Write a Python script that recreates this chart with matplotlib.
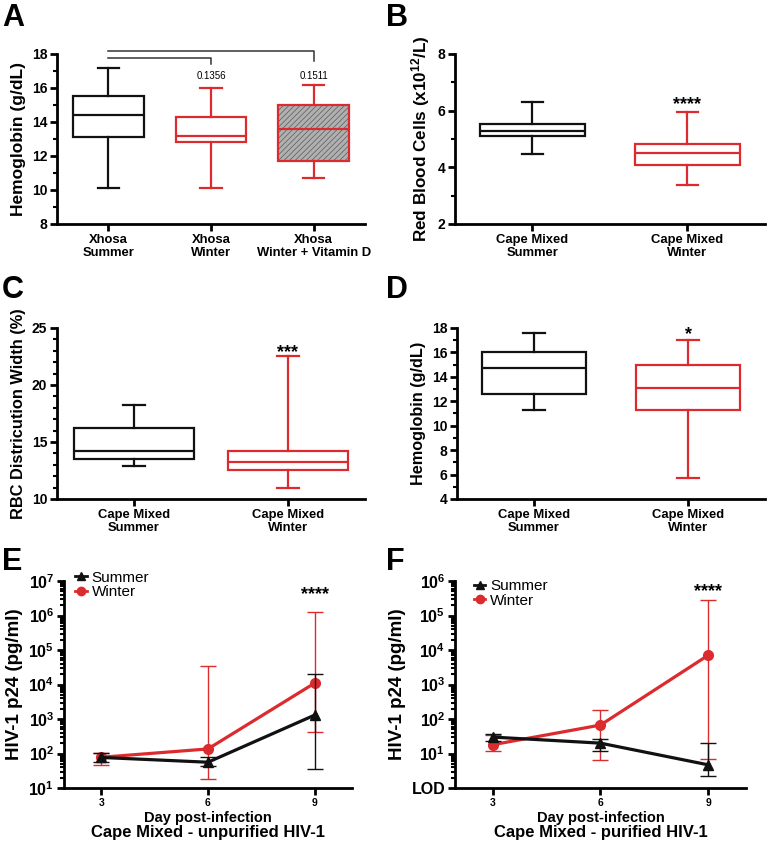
import matplotlib
matplotlib.use("Agg")
import matplotlib.pyplot as plt
from matplotlib.lines import Line2D
from matplotlib.ticker import MultipleLocator, LogLocator, NullFormatter, FixedLocator

plt.rcParams['font.family'] = ['Liberation Sans', 'DejaVu Sans']
plt.rcParams['font.weight'] = 'bold'
plt.rcParams['mathtext.fontset'] = 'custom'
plt.rcParams['mathtext.rm'] = 'Liberation Sans:bold'
plt.rcParams['mathtext.it'] = 'Liberation Sans:bold'
plt.rcParams['mathtext.bf'] = 'Liberation Sans:bold'
plt.rcParams['hatch.linewidth'] = 0.5

BLACK = '#111111'
RED = '#dc2b2e'

# ---- panel A: Xhosa hemoglobin
a_labels = ['Xhosa\nSummer', 'Xhosa\nWinter', 'Xhosa\nWinter + Vitamin D']
a_whislo = [10.1, 10.1, 10.7]
a_q1 = [13.1, 12.8, 11.7]
a_med = [14.4, 13.2, 13.6]
a_q3 = [15.5, 14.3, 15.0]
a_whishi = [17.2, 16.0, 16.2]
a_pvals = ['0.1356', '0.1511']

# ---- panel B: red blood cells
b_labels = ['Cape Mixed\nSummer', 'Cape Mixed\nWinter']
b_whislo = [4.47, 3.37]
b_q1 = [5.11, 4.08]
b_med = [5.29, 4.52]
b_q3 = [5.53, 4.82]
b_whishi = [6.3, 5.96]

# ---- panel C: RBC distribution width
c_labels = ['Cape Mixed\nSummer', 'Cape Mixed\nWinter']
c_whislo = [12.9, 10.95]
c_q1 = [13.5, 12.5]
c_med = [14.2, 13.2]
c_q3 = [16.2, 14.2]
c_whishi = [18.2, 22.5]

# ---- panel D: Cape Mixed hemoglobin
d_labels = ['Cape Mixed\nSummer', 'Cape Mixed\nWinter']
d_whislo = [11.3, 5.7]
d_q1 = [12.6, 11.3]
d_med = [14.7, 13.05]
d_q3 = [16.0, 15.0]
d_whishi = [17.6, 17.0]

# ---- panels E/F: HIV-1 p24 over time
days = [3, 6, 9]
e_summer = [77, 56, 1300]
e_summer_lo = [57, 44, 35]
e_summer_hi = [102, 82, 19700]
e_winter = [78, 136, 11000]
e_winter_lo = [45, 18, 430]
e_winter_hi = [102, 33500, 1.3e6]

f_summer = [30, 20, 4.7]
f_summer_lo = [23, 12, 2.2]
f_summer_hi = [36, 27, 19.6]
f_winter = [18, 67, 7100]
f_winter_lo = [11.5, 6.4, 7]
f_winter_hi = [35, 182, 2.8e5]


def style_axes(ax):
    for s in ['top', 'right']:
        ax.spines[s].set_visible(False)
    for s in ['left', 'bottom']:
        ax.spines[s].set_linewidth(2)
    ax.tick_params(which='major', width=2, length=5, labelsize=10, pad=2)
    ax.tick_params(which='minor', width=1.5, length=3)


def draw_boxes(ax, labels, whislo, q1, med, q3, whishi, colors, width, capw, fills=None):
    stats = []
    for i in range(len(labels)):
        stats.append(dict(med=med[i], q1=q1[i], q3=q3[i], whislo=whislo[i],
                          whishi=whishi[i], fliers=[]))
    pos = list(range(len(labels)))
    bp = ax.bxp(stats, positions=pos, widths=width, capwidths=capw,
                showfliers=False, patch_artist=True)
    for i, c in enumerate(colors):
        box = bp['boxes'][i]
        box.set_edgecolor(c)
        box.set_linewidth(1.6)
        box.set_facecolor('white' if fills is None or fills[i] is None else fills[i])
        bp['medians'][i].set_color(c)
        bp['medians'][i].set_linewidth(1.6)
        for j in (2 * i, 2 * i + 1):
            bp['whiskers'][j].set_color(c)
            bp['whiskers'][j].set_linewidth(1.6)
            bp['caps'][j].set_color(c)
            bp['caps'][j].set_linewidth(1.6)
    ax.set_xticks(pos)
    ax.set_xticklabels(labels, fontsize=9.4, fontweight='bold')
    ax.set_xlim(-0.5, len(labels) - 0.5)
    return bp


fig = plt.figure(figsize=(7.68, 8.42), dpi=100)

axA = fig.add_axes([0.0742, 0.7340, 0.401, 0.2019])
axB = fig.add_axes([0.5924, 0.7340, 0.4036, 0.2019])
axC = fig.add_axes([0.0742, 0.4074, 0.401, 0.2031])
axD = fig.add_axes([0.5951, 0.4074, 0.401, 0.2031])
axE = fig.add_axes([0.0833, 0.0641, 0.375, 0.2458])
axF = fig.add_axes([0.5924, 0.0641, 0.379, 0.2458])

# A
style_axes(axA)
bp = draw_boxes(axA, a_labels, a_whislo, a_q1, a_med, a_q3, a_whishi,
                [BLACK, RED, RED], 0.69, 0.21, fills=[None, None, '#b0b0b0'])
hb = bp['boxes'][2]
hb.set_hatch('//////')
try:
    hb.set_hatchcolor('#5a5a5a')
except AttributeError:
    hb._hatch_color = matplotlib.colors.to_rgba('#5a5a5a')
axA.set_ylim(8, 18)
axA.yaxis.set_major_locator(MultipleLocator(2))
axA.yaxis.set_minor_locator(MultipleLocator(1))
axA.set_ylabel('Hemoglobin (g/dL)', fontsize=12.5, fontweight='bold', labelpad=4)
# comparison brackets
axA.plot([0, 2, 2], [18.19, 18.19, 17.6], color='#333333', lw=1.1, clip_on=False)
axA.plot([0, 1, 1], [17.76, 17.76, 17.41], color='#333333', lw=1.1, clip_on=False)
for i, p in enumerate(a_pvals):
    axA.text(i + 1, 16.72, p, ha='center', va='center', fontsize=7, fontweight='normal')

# B
style_axes(axB)
draw_boxes(axB, b_labels, b_whislo, b_q1, b_med, b_q3, b_whishi,
           [BLACK, RED], 0.675, 0.14)
axB.set_ylim(2, 8)
axB.yaxis.set_major_locator(MultipleLocator(2))
axB.yaxis.set_minor_locator(MultipleLocator(1))
axB.set_ylabel('Red Blood Cells (x10$^{12}$/L)', fontsize=12.3, fontweight='bold', labelpad=4)
axB.text(1, 6.2, '****', ha='center', va='center', fontsize=13)

# C
style_axes(axC)
draw_boxes(axC, c_labels, c_whislo, c_q1, c_med, c_q3, c_whishi,
           [BLACK, RED], 0.78, 0.14)
axC.set_ylim(10, 25)
axC.yaxis.set_major_locator(MultipleLocator(5))
axC.yaxis.set_minor_locator(MultipleLocator(1))
axC.set_ylabel('RBC Districution Width (%)', fontsize=11.8, fontweight='bold', labelpad=4)
axC.text(1, 22.85, '***', ha='center', va='center', fontsize=13)

# D
style_axes(axD)
draw_boxes(axD, d_labels, d_whislo, d_q1, d_med, d_q3, d_whishi,
           [BLACK, RED], 0.675, 0.14)
axD.set_ylim(4, 18)
axD.yaxis.set_major_locator(MultipleLocator(2))
axD.yaxis.set_minor_locator(MultipleLocator(1))
axD.set_ylabel('Hemoglobin (g/dL)', fontsize=11.7, fontweight='bold', labelpad=4)
axD.text(1, 17.45, '*', ha='center', va='center', fontsize=13)


def draw_lines(ax, summer, s_lo, s_hi, winter, w_lo, w_hi):
    s_err = [[v - l for v, l in zip(summer, s_lo)], [h - v for v, h in zip(summer, s_hi)]]
    w_err = [[v - l for v, l in zip(winter, w_lo)], [h - v for v, h in zip(winter, w_hi)]]
    ax.errorbar(days, winter, yerr=w_err, color=RED, lw=2.3, marker='o', ms=7,
                elinewidth=1, capsize=6, capthick=1, zorder=3)
    ax.errorbar(days, summer, yerr=s_err, color=BLACK, lw=2.3, marker='^', ms=7,
                elinewidth=1, capsize=6, capthick=1, zorder=4)
    ax.set_yscale('log')
    ax.set_xlim(1.95, 10.05)
    ax.set_xticks(days)
    ax.tick_params(axis='x', labelsize=7.5)
    ax.yaxis.set_minor_locator(LogLocator(base=10, subs=range(2, 10), numticks=20))
    ax.yaxis.set_minor_formatter(NullFormatter())
    ax.set_ylabel('HIV-1 p24 (pg/ml)', fontsize=13.5, fontweight='bold', labelpad=4)
    ax.set_xlabel('Day post-infection', fontsize=10.5, fontweight='bold', labelpad=2)


legend_handles = [Line2D([], [], color=BLACK, lw=2, marker='^', ms=6),
                  Line2D([], [], color=RED, lw=2, marker='o', ms=6)]
legend_labels = ['Summer', 'Winter']

# E
style_axes(axE)
draw_lines(axE, e_summer, e_summer_lo, e_summer_hi, e_winter, e_winter_lo, e_winter_hi)
axE.set_ylim(10, 1e7)
axE.yaxis.set_major_locator(FixedLocator([10 ** k for k in range(1, 8)]))
axE.set_yticklabels(['$10^{%d}$' % k for k in range(1, 8)], fontsize=11.5)
axE.legend(legend_handles, legend_labels, loc='upper left', bbox_to_anchor=(0.04, 1.05),
           frameon=False, borderpad=0, borderaxespad=0,
           handlelength=0.75, handletextpad=0.3, labelspacing=0.05,
           prop={'weight': 'normal', 'size': 11})
axE.text(9, 10 ** 6.6, '****', ha='center', va='center', fontsize=13)
axE.text(0.5, -0.215, 'Cape Mixed - unpurified HIV-1', transform=axE.transAxes,
         ha='center', va='center', fontsize=12)

# F
style_axes(axF)
draw_lines(axF, f_summer, f_summer_lo, f_summer_hi, f_winter, f_winter_lo, f_winter_hi)
axF.set_ylim(1, 1e6)
axF.yaxis.set_major_locator(FixedLocator([10 ** k for k in range(0, 7)]))
axF.set_yticklabels(['LOD'] + ['$10^{%d}$' % k for k in range(1, 7)], fontsize=11.5)
axF.legend(legend_handles, legend_labels, loc='upper left', bbox_to_anchor=(0.065, 1.01),
           frameon=False, borderpad=0, borderaxespad=0,
           handlelength=0.75, handletextpad=0.3, labelspacing=0.05,
           prop={'weight': 'normal', 'size': 11})
axF.text(9, 10 ** 5.7, '****', ha='center', va='center', fontsize=13)
axF.text(0.5, -0.215, 'Cape Mixed - purified HIV-1', transform=axF.transAxes,
         ha='center', va='center', fontsize=12)

# panel letters
for letter, x, y in [('A', 2, 3), ('B', 386, 3), ('C', 2, 275), ('D', 386, 275),
                     ('E', 2, 547), ('F', 386, 547)]:
    fig.text(x / 768, 1 - y / 842, letter, ha='left', va='top', fontsize=22, fontweight='bold')

fig.savefig('out.png', dpi=100)
